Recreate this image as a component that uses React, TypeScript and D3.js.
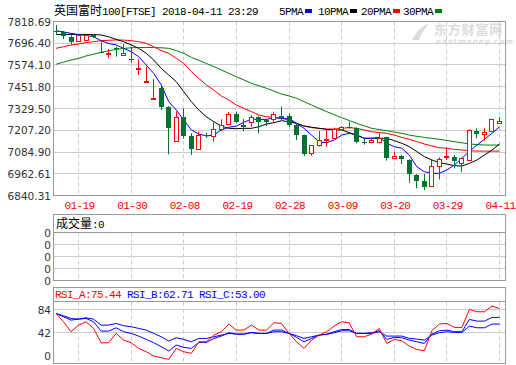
import * as d3 from "d3";

// trading days shown on the chart (2018)
const dates = [
  "01-16", "01-17", "01-18", "01-19", "01-22", "01-23", "01-24", "01-25", "01-26", "01-29",
  "01-30", "01-31", "02-01", "02-02", "02-05", "02-06", "02-07", "02-08", "02-09", "02-12",
  "02-13", "02-14", "02-15", "02-16", "02-19", "02-20", "02-21", "02-22", "02-23", "02-26",
  "02-27", "02-28", "03-01", "03-02", "03-05", "03-06", "03-07", "03-08", "03-09", "03-12",
  "03-13", "03-14", "03-15", "03-16", "03-19", "03-20", "03-21", "03-22", "03-23", "03-26",
  "03-27", "03-28", "03-29", "04-03", "04-04", "04-05", "04-06", "04-09", "04-10", "04-11",
];

const open = [
  7767, 7760, 7733, 7705, 7712, 7745, 7649, 7634, 7668, 7630,
  7608, 7546, 7478, 7379, 7447, 7336, 7143, 7280, 7175, 7100,
  7182, 7173, 7212, 7240, 7297, 7235, 7252, 7282, 7265, 7265,
  7287, 7289, 7237, 7180, 7076, 7120, 7150, 7162, 7214, 7224,
  7218, 7143, 7141, 7141, 7167, 7049, 7062, 7040, 6955, 6922,
  6890, 7002, 7053, 7059, 7021, 7038, 7203, 7186, 7201, 7246,
];
const high = [
  7799, 7765, 7741, 7745, 7745, 7750, 7715, 7664, 7677, 7692,
  7677, 7606, 7565, 7494, 7452, 7343, 7312, 7330, 7190, 7199,
  7194, 7252, 7269, 7310, 7312, 7270, 7293, 7287, 7272, 7312,
  7340, 7302, 7246, 7182, 7124, 7203, 7209, 7222, 7231, 7255,
  7224, 7162, 7167, 7190, 7171, 7087, 7068, 7044, 6961, 6961,
  7044, 7055, 7111, 7068, 7055, 7212, 7218, 7218, 7272, 7280,
];
const low = [
  7743, 7720, 7690, 7703, 7710, 7725, 7640, 7612, 7621, 7627,
  7587, 7518, 7475, 7377, 7321, 7072, 7141, 7160, 7068, 7096,
  7165, 7143, 7203, 7239, 7246, 7201, 7227, 7190, 7231, 7255,
  7265, 7224, 7152, 7062, 7064, 7115, 7115, 7158, 7209, 7216,
  7134, 7126, 7134, 7134, 7036, 7044, 7017, 6912, 6881, 6871,
  6888, 6931, 7040, 6993, 6974, 7034, 7162, 7149, 7197, 7244,
];
const close = [
  7758, 7735, 7705, 7739, 7738, 7733, 7641, 7640, 7662, 7638,
  7602, 7552, 7484, 7385, 7336, 7218, 7280, 7177, 7100, 7180,
  7173, 7212, 7233, 7297, 7252, 7227, 7278, 7255, 7255, 7293,
  7276, 7239, 7180, 7074, 7119, 7147, 7158, 7212, 7225, 7218,
  7143, 7137, 7147, 7162, 7049, 7062, 7044, 6961, 6924, 6890,
  7001, 7044, 7062, 7036, 7049, 7203, 7186, 7195, 7269, 7259,
];

const ma5 = [
  7767, 7760, 7752, 7745, 7740, 7733, 7711, 7695, 7687, 7668,
  7649, 7621, 7574, 7527, 7462, 7368, 7321, 7265, 7209, 7186,
  7175, 7180, 7209, 7224, 7231, 7252, 7270, 7268, 7268, 7278,
  7274, 7274, 7246, 7218, 7180, 7143, 7137, 7152, 7180, 7190,
  7180, 7162, 7162, 7167, 7134, 7115, 7106, 7068, 7002, 6974,
  6965, 6965, 6984, 7012, 7049, 7090, 7124, 7156, 7190, 7227,
];
const ma10 = [
  7746, 7746, 7746, 7746, 7746, 7745, 7743, 7733, 7718, 7705,
  7687, 7668, 7640, 7602, 7555, 7518, 7480, 7424, 7368, 7321,
  7283, 7255, 7231, 7218, 7216, 7218, 7218, 7227, 7242, 7250,
  7261, 7255, 7246, 7231, 7224, 7218, 7212, 7209, 7209, 7194,
  7180, 7162, 7162, 7162, 7162, 7149, 7134, 7115, 7087, 7059,
  7040, 7025, 7017, 7008, 7006, 7021, 7040, 7068, 7096, 7130,
];
const ma20 = [
  7668, 7677, 7686, 7692, 7700, 7705, 7711, 7713, 7715, 7714,
  7711, 7705, 7696, 7677, 7655, 7640, 7612, 7583, 7537, 7499,
  7462, 7433, 7400, 7377, 7349, 7330, 7312, 7293, 7283, 7280,
  7274, 7265, 7246, 7231, 7222, 7218, 7214, 7214, 7218, 7222,
  7218, 7209, 7199, 7194, 7190, 7180, 7167, 7156, 7143, 7130,
  7119, 7109, 7106, 7100, 7096, 7092, 7090, 7090, 7090, 7090,
];
const ma30 = [
  7578, 7590, 7602, 7611, 7625, 7635, 7645, 7654, 7662, 7667,
  7671, 7672, 7673, 7672, 7671, 7668, 7655, 7640, 7617, 7600,
  7583, 7565, 7546, 7527, 7508, 7490, 7471, 7457, 7443, 7427,
  7411, 7400, 7387, 7368, 7349, 7330, 7312, 7295, 7278, 7262,
  7246, 7232, 7218, 7211, 7205, 7197, 7190, 7180, 7173, 7167,
  7162, 7156, 7150, 7143, 7137, 7130, 7127, 7124, 7124, 7124,
];

const rsiA = [
  68.3, 56.3, 42.0, 51.5, 56.3, 46.8, 26.2, 26.2, 39.6, 30.0,
  26.2, 18.1, 13.3, 7.1, 4.7, 2.3, 18.1, 13.3, 10.9, 27.6,
  27.6, 37.2, 42.0, 53.0, 44.4, 44.4, 51.5, 44.4, 44.4, 54.9,
  53.9, 39.6, 27.6, 18.1, 30.0, 37.2, 42.0, 50.1, 56.3, 54.9,
  34.8, 34.8, 38.6, 46.8, 25.2, 31.0, 29.1, 21.4, 16.6, 14.7,
  43.4, 53.0, 53.9, 48.2, 48.2, 74.0, 70.7, 70.7, 78.8, 75.44,
];
const rsiB = [
  68.3, 63.5, 58.7, 60.1, 61.1, 56.3, 42.9, 42.9, 47.7, 42.0,
  39.6, 35.8, 31.0, 26.2, 20.5, 14.3, 22.9, 19.5, 18.1, 26.7,
  26.7, 32.4, 35.8, 40.6, 38.6, 38.6, 41.0, 39.6, 39.6, 44.4,
  44.4, 39.6, 33.9, 27.6, 32.4, 37.2, 38.6, 42.0, 45.3, 45.3,
  39.6, 39.6, 40.6, 43.4, 31.0, 33.9, 33.4, 30.0, 27.6, 25.2,
  38.6, 43.4, 44.4, 42.0, 42.0, 59.7, 57.3, 57.3, 62.5, 62.71,
];
const rsiC = [
  68.3, 64.9, 61.1, 60.1, 62.1, 60.1, 51.5, 51.5, 53.9, 50.6,
  49.2, 46.8, 44.4, 39.6, 34.8, 28.6, 33.4, 31.0, 27.6, 32.4,
  32.4, 34.8, 37.2, 39.6, 38.6, 38.6, 40.6, 39.6, 39.6, 42.0,
  42.0, 39.6, 36.3, 32.4, 34.8, 37.2, 38.2, 40.6, 43.4, 43.4,
  39.6, 39.6, 39.6, 42.0, 35.8, 35.8, 35.8, 32.4, 31.5, 30.0,
  37.2, 40.6, 42.0, 41.0, 41.0, 50.1, 47.7, 47.7, 53.0, 53.0,
];

const priceTicks = [7818.69, 7696.4, 7574.1, 7451.8, 7329.5, 7207.2, 7084.9, 6962.61, 6840.31];
const dateTicks = ["01-19", "01-30", "02-08", "02-19", "02-28", "03-09", "03-20", "03-29", "04-11"];
const volumeTicks = ["0", "0", "0", "0", "0"];
const rsiTicks = [84, 42, 0];
const maNames = ["5PMA", "10PMA", "20PMA", "30PMA"];
const maColors = ["#0000ff", "#000000", "#ff0000", "#008000"];

const MONO = "'Liberation Mono', 'DejaVu Sans Mono', monospace";
const CJK = "'Noto Sans CJK SC', sans-serif";
const SANS = "'DejaVu Sans', sans-serif";
const UP = "#ff0000";
const DOWN = "#007232";
const GRID = "#cccccc";
const BORDER = "#999999";

const px = (v: number) => Math.round(v - 0.5) + 0.5;

export default function App() {
  const left = 53.5;
  const right = 505.5;
  const main = { t: 21.5, b: 195.5 };
  const vol = { t: 214.5, h: 232.5, b: 280.5 };
  const rsi = { t: 287.5, h: 301.5, b: 363.5 };

  const x = d3.scalePoint<string>().domain(dates).range([56, 499.5]);
  const y = d3.scaleLinear().domain([6840.31, 7818.69]).range([main.b, main.t]);
  const yVolLabel = d3.scaleLinear().domain([0, volumeTicks.length - 1]).range([vol.h, vol.b]);
  const yRsi = d3.scaleLinear().domain([0, 84]).range([361, 302.5]);
  const yRsiAxis = d3.scaleLinear().domain([0, 84]).range([356, 309.5]);

  const cx = (i: number) => px(x(dates[i])!);

  const maPath = (vals: number[]) =>
    d3.line<number>().x((_, i) => x(dates[i])!).y((d) => y(d))(vals) || "";
  const rsiPath = (vals: number[]) =>
    d3.line<number>().x((_, i) => x(dates[i])!).y((d) => yRsi(d))(vals) || "";

  const vGrid = (t: number, b: number) =>
    dateTicks.map((d) => (
      <line key={d} x1={px(x(d)!)} x2={px(x(d)!)} y1={t} y2={b} stroke={GRID} strokeDasharray="4,3" />
    ));

  const legendX = [279, 318, 361, 403];

  return (
    <svg width={516} height={365} style={{ position: "absolute", left: 0, top: 0, background: "#fff" }}>
      <defs>
        <clipPath id="rsiClip">
          <rect x={left} y={rsi.h} width={right - left} height={rsi.b - rsi.h} />
        </clipPath>
      </defs>

      {/* header */}
      <text x={54} y={14.5} fill="#000">
        <tspan fontFamily={CJK} fontSize={12}>英国富时</tspan>
        <tspan fontFamily={MONO} fontSize={11} letterSpacing={-0.6}>100[FTSE] 2018-04-11 23:29</tspan>
      </text>
      {maNames.map((n, i) => (
        <g key={n}>
          <text x={legendX[i]} y={14.5} fontFamily={MONO} fontSize={11} letterSpacing={-0.6} fill="#000">
            {n}
          </text>
          <rect x={legendX[i] + n.length * 6 + 2} y={9} width={7} height={4} fill={maColors[i]} />
        </g>
      ))}

      {/* watermark */}
      <g fill="#dcdcdc">
        <path d="M412 40 C418 30 422 26 428 24 C424 30 421 34 419 40 Z" />
        <text x={434} y={33.5} fontFamily={CJK} fontSize={13} fontWeight="bold" letterSpacing={0.8}>
          东方财富网
        </text>
        <text x={436} y={44} fontFamily={SANS} fontSize={7.5} fontWeight="bold" fontStyle="italic" letterSpacing={0.9}>
          eastmoney.com
        </text>
      </g>

      {/* main panel grid */}
      {priceTicks.map((p) => (
        <line key={p} x1={left} x2={right} y1={px(y(p))} y2={px(y(p))} stroke={GRID} />
      ))}
      {vGrid(main.t, main.b)}
      <rect x={left} y={main.t} width={right - left} height={main.b - main.t} fill="none" stroke={BORDER} />
      {priceTicks.map((p) => (
        <text key={p} x={51} y={y(p)} textAnchor="end" dominantBaseline="central" fontFamily={SANS} fontSize={10.5} fill="#333">
          {p.toFixed(2)}
        </text>
      ))}

      {/* moving averages */}
      {[ma30, ma20, ma10, ma5].map((vals, k) => (
        <path key={k} d={maPath(vals)} fill="none" stroke={maColors[3 - k]} strokeWidth={1} />
      ))}

      {/* candles */}
      {dates.map((d, i) => {
        const up = close[i] >= open[i];
        const c = cx(i);
        const top = y(Math.max(open[i], close[i]));
        const bot = y(Math.min(open[i], close[i]));
        if (up) {
          const bt = px(top);
          const bb = Math.max(px(bot), bt + 1);
          return (
            <g key={d} stroke={UP}>
              <line x1={c} x2={c} y1={y(high[i])} y2={bt} />
              <line x1={c} x2={c} y1={bb} y2={y(low[i])} />
              <rect x={c - 2} y={bt} width={4} height={bb - bt} fill="#fff" />
            </g>
          );
        }
        return (
          <g key={d}>
            <line x1={c} x2={c} y1={y(high[i])} y2={y(low[i])} stroke={DOWN} />
            <rect x={c - 2.5} y={Math.round(top)} width={5} height={Math.max(1, Math.round(bot) - Math.round(top))} fill={DOWN} />
          </g>
        );
      })}

      {/* date labels */}
      {dateTicks.map((d) => (
        <text key={d} x={x(d)! + 1} y={206} textAnchor="middle" dominantBaseline="central" fontFamily={MONO} fontSize={11} letterSpacing={-0.6} fill="#ff0000">
          {d}
        </text>
      ))}

      {/* volume panel */}
      {volumeTicks.slice(1, -1).map((_, i) => (
        <line key={i} x1={left} x2={right} y1={px(yVolLabel(i + 1))} y2={px(yVolLabel(i + 1))} stroke={GRID} />
      ))}
      {vGrid(vol.h, vol.b)}
      <rect x={left} y={vol.t} width={right - left} height={vol.b - vol.t} fill="none" stroke={BORDER} />
      <line x1={left} x2={right} y1={vol.h} y2={vol.h} stroke={BORDER} />
      <text x={56} y={228} fill="#000">
        <tspan fontFamily={CJK} fontSize={12}>成交量</tspan>
        <tspan fontFamily={MONO} fontSize={11} letterSpacing={-0.6}>:0</tspan>
      </text>
      {volumeTicks.map((t, i) => (
        <text key={i} x={51} y={yVolLabel(i)} textAnchor="end" dominantBaseline="central" fontFamily={SANS} fontSize={10.5} fill="#333">
          {t}
        </text>
      ))}

      {/* RSI panel */}
      {rsiTicks.filter((t) => t > 0).map((t) => (
        <line key={t} x1={left} x2={right} y1={px(yRsiAxis(t))} y2={px(yRsiAxis(t))} stroke={GRID} />
      ))}
      {vGrid(rsi.h, rsi.b)}
      <g clipPath="url(#rsiClip)" fill="none" strokeWidth={1}>
        <path d={rsiPath(rsiC)} stroke="#0000ff" />
        <path d={rsiPath(rsiB)} stroke="#0000ff" />
        <path d={rsiPath(rsiA)} stroke="#ff0000" />
      </g>
      <rect x={left} y={rsi.t} width={right - left} height={rsi.b - rsi.t} fill="none" stroke={BORDER} />
      <line x1={left} x2={right} y1={rsi.h} y2={rsi.h} stroke={BORDER} />
      <text x={55} y={298} fontFamily={MONO} fontSize={11} letterSpacing={-0.6}>
        <tspan fill="#ff0000">RSI_A:{rsiA[rsiA.length - 1].toFixed(2)}</tspan>
        <tspan fill="#0000ff"> RSI_B:{rsiB[rsiB.length - 1].toFixed(2)}</tspan>
        <tspan fill="#0000ff"> RSI_C:{rsiC[rsiC.length - 1].toFixed(2)}</tspan>
      </text>
      {rsiTicks.map((t) => (
        <text key={t} x={51} y={yRsiAxis(t)} textAnchor="end" dominantBaseline="central" fontFamily={SANS} fontSize={10.5} fill="#333">
          {t}
        </text>
      ))}
    </svg>
  );
}
